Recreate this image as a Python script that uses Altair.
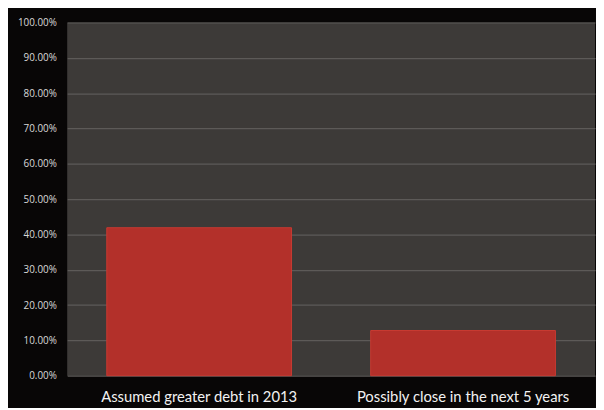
import altair as alt
import pandas as pd

categories = ["Assumed greater debt in 2013", "Possibly close in the next 5 years"]
values = [0.419, 0.128]

df = pd.DataFrame({"category": categories, "value": values})

chart = alt.Chart(df).mark_bar(
    color="#b3302a", stroke="#c83a32", strokeWidth=1
).encode(
    x=alt.X("category:N", sort=categories, title=None,
            scale=alt.Scale(paddingInner=0.3, paddingOuter=0.15),
            axis=alt.Axis(labelAngle=0, labelColor="#f2f2f2", labelFontSize=15,
                          labelFont="Lato", labelPadding=14, ticks=False, labelLimit=0,
                          domain=False, grid=False)),
    y=alt.Y("value:Q", title=None,
            scale=alt.Scale(domain=[0, 1]),
            axis=alt.Axis(format=".2%", values=[i / 10 for i in range(11)],
                          labelColor="#d8d8d8", labelFontSize=10, labelFont="Open Sans",
                          labelPadding=11, ticks=False, domain=False,
                          gridColor="#5d5a58", gridWidth=1.2)),
).properties(
    width=535, height=358,
    autosize=alt.AutoSizeParams(type="none"),
    padding={"left": 60, "top": 12, "right": 1, "bottom": 30},
    background="#080606",
).configure_view(
    fill="#3d3a38", stroke=None
)

chart.save("out.html", embed_options={"renderer": "svg", "actions": False})
